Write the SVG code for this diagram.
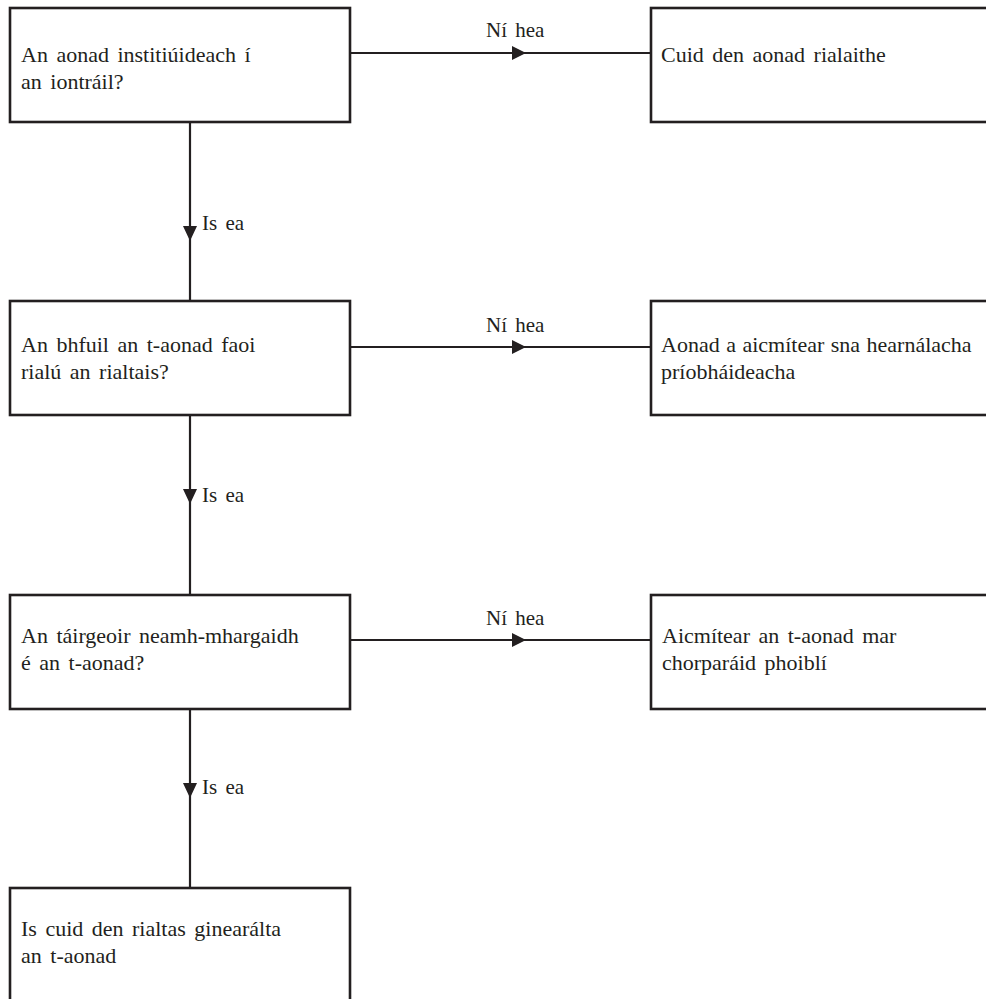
<svg xmlns="http://www.w3.org/2000/svg" width="986" height="999" viewBox="0 0 986 999">
<defs>
<style>
.box{fill:#fff;stroke:#231f20;stroke-width:2.6}
.con{fill:none;stroke:#231f20;stroke-width:2.2}
.ah{fill:#231f20}
text{font-family:"Liberation Serif","Times New Roman",serif;font-size:22px;fill:#231f20;word-spacing:3px}
.lbl{font-size:21px}
</style>
</defs>
<rect width="986" height="999" fill="#fff"/>
<g id="connectors">
<line class="con" x1="190" y1="122" x2="190" y2="301"/>
<polygon class="ah" points="183,226 197,226 190,241"/>
<text class="lbl" x="202" y="230">Is ea</text>
<line class="con" x1="190" y1="415" x2="190" y2="595"/>
<polygon class="ah" points="183,489 197,489 190,504"/>
<text class="lbl" x="202" y="502">Is ea</text>
<line class="con" x1="190" y1="709" x2="190" y2="888"/>
<polygon class="ah" points="183,783 197,783 190,798"/>
<text class="lbl" x="202" y="794">Is ea</text>
<line class="con" x1="350" y1="53" x2="651" y2="53"/>
<polygon class="ah" points="512,46 512,60 526,53"/>
<text class="lbl" x="486" y="37">Ní hea</text>
<line class="con" x1="350" y1="347" x2="651" y2="347"/>
<polygon class="ah" points="512,340 512,354 526,347"/>
<text class="lbl" x="486" y="332">Ní hea</text>
<line class="con" x1="350" y1="640" x2="651" y2="640"/>
<polygon class="ah" points="512,633 512,647 526,640"/>
<text class="lbl" x="486" y="625">Ní hea</text>
</g>
<g id="n1">
<rect class="box" x="10" y="8" width="340" height="114"/>
<text x="21" y="62">An aonad institiúideach í</text>
<text x="21" y="89">an iontráil?</text>
</g>
<g id="n2">
<rect class="box" x="651" y="8" width="360" height="114"/>
<text x="661" y="62">Cuid den aonad rialaithe</text>
</g>
<g id="n3">
<rect class="box" x="10" y="301" width="340" height="114"/>
<text x="21" y="352">An bhfuil an t-aonad faoi</text>
<text x="21" y="379">rialú an rialtais?</text>
</g>
<g id="n4">
<rect class="box" x="651" y="301" width="360" height="114"/>
<text x="661" y="352" style="word-spacing:1px">Aonad a aicmítear sna hearnálacha</text>
<text x="661" y="379">príobháideacha</text>
</g>
<g id="n5">
<rect class="box" x="10" y="595" width="340" height="114"/>
<text x="21" y="643">An táirgeoir neamh-mhargaidh</text>
<text x="21" y="670">é an t-aonad?</text>
</g>
<g id="n6">
<rect class="box" x="651" y="595" width="360" height="114"/>
<text x="662" y="643">Aicmítear an t-aonad mar</text>
<text x="662" y="670">chorparáid phoiblí</text>
</g>
<g id="n7">
<rect class="box" x="10" y="888" width="340" height="130"/>
<text x="21" y="936">Is cuid den rialtas ginearálta</text>
<text x="21" y="963">an t-aonad</text>
</g>
</svg>
